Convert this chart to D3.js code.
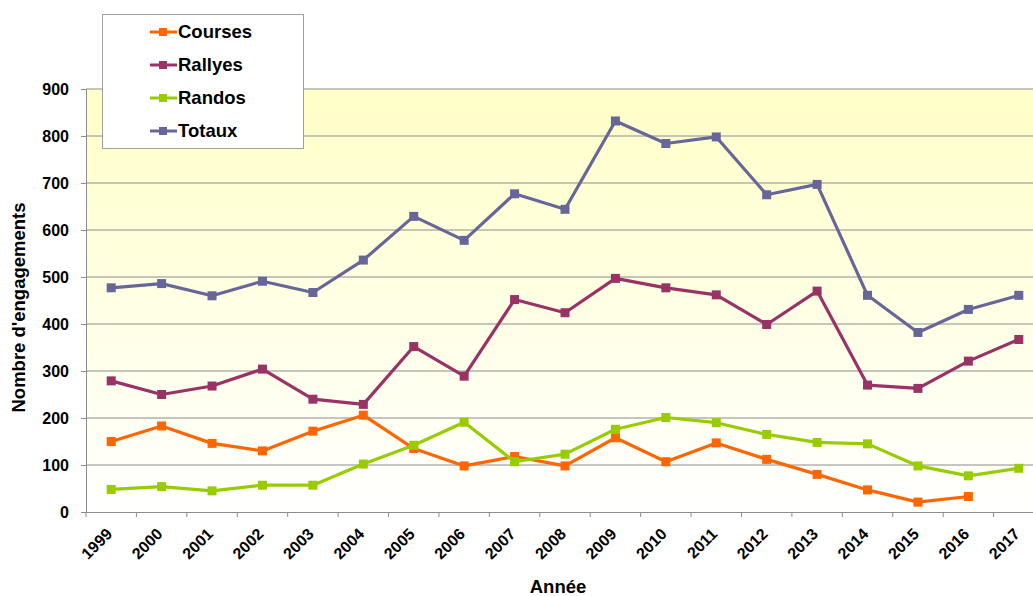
<!DOCTYPE html>
<html>
<head>
<meta charset="utf-8">
<script src="https://cdn.jsdelivr.net/npm/d3@7"></script>
<style>
  body { margin: 0; background: #fff; }
  svg { font-family: "Liberation Sans", Arial, sans-serif; }
</style>
</head>
<body>
<div id="chart"></div>
<script>
const years = ['1999','2000','2001','2002','2003','2004','2005','2006','2007','2008',
  '2009','2010','2011','2012','2013','2014','2015','2016','2017']
const courses = [150, 183, 146, 130, 172, 206, 135, 98, 118, 98, 158, 107, 147, 112, 80, 47, 21, 33, null]
const rallyes = [279, 250, 268, 304, 240, 229, 352, 289, 452, 424, 497, 477, 462, 399, 470, 270, 263, 321, 367]
const randos = [48, 54, 45, 57, 57, 102, 142, 191, 107, 123, 176, 201, 190, 165, 148, 145, 98, 77, 93]
const totaux = [477, 486, 460, 491, 467, 536, 629, 578, 677, 644, 832, 784, 798, 675, 697, 461, 382, 431, 461]
const yTicks = [0, 100, 200, 300, 400, 500, 600, 700, 800, 900]

const series = [
  { name: 'Courses', values: courses, color: '#FF6600' },
  { name: 'Rallyes', values: rallyes, color: '#993366' },
  { name: 'Randos', values: randos, color: '#99CC00' },
  { name: 'Totaux', values: totaux, color: '#666699' }
]

const width = 1033, height = 596
const margin = { left: 86, top: 89, bottom: 84 }
const plotRight = 1044

const svg = d3.select('#chart').append('svg')
  .attr('width', width)
  .attr('height', height)

const x = d3.scaleBand().domain(years).range([margin.left, plotRight])
const y = d3.scaleLinear().domain([0, 900]).range([height - margin.bottom, margin.top])

// fond dégradé
const defs = svg.append('defs')
const grad = defs.append('linearGradient')
  .attr('id', 'bg').attr('x1', 0).attr('y1', 0).attr('x2', 0).attr('y2', 1)
grad.append('stop').attr('offset', '0%').attr('stop-color', '#FFFFC8')
grad.append('stop').attr('offset', '100%').attr('stop-color', '#FFFFFF')

svg.append('rect')
  .attr('x', margin.left).attr('y', y(900))
  .attr('width', plotRight - margin.left).attr('height', y(0) - y(900))
  .attr('fill', 'url(#bg)')

// grille
svg.append('g')
  .selectAll('line')
  .data(yTicks.filter(d => d > 0))
  .enter()
  .append('line')
  .attr('x1', margin.left).attr('x2', plotRight)
  .attr('y1', d => y(d)).attr('y2', d => y(d))
  .attr('stroke', '#8C8C8C').attr('stroke-width', 1)

// axe Y
const yAxis = svg.append('g')
  .attr('transform', `translate(${margin.left},0)`)
  .call(d3.axisLeft(y).tickValues(yTicks).tickSize(5).tickPadding(12))
yAxis.select('.domain').attr('stroke', '#8C8C8C')
yAxis.selectAll('.tick line').attr('stroke', '#8C8C8C')
yAxis.selectAll('text')
  .attr('font-size', '16px').attr('font-weight', 'bold').attr('fill', '#000')
  .attr('font-family', '"Liberation Sans", Arial, sans-serif')

// axe X
const xAxis = svg.append('g')
  .attr('transform', `translate(0,${y(0)})`)
  .call(d3.axisBottom(x).tickSize(0).tickPadding(0))
xAxis.select('.domain').attr('stroke', '#8C8C8C')
xAxis.selectAll('text')
  .attr('font-size', '16px').attr('font-weight', 'bold').attr('fill', '#000')
  .attr('font-family', '"Liberation Sans", Arial, sans-serif')
  .attr('text-anchor', 'end')
  .attr('dy', null).attr('y', 0)
  .attr('transform', 'translate(2,23) rotate(-45)')

// graduations aux limites des catégories
svg.append('g')
  .selectAll('line')
  .data(years)
  .enter()
  .append('line')
  .attr('x1', d => x(d)).attr('x2', d => x(d))
  .attr('y1', y(0)).attr('y2', y(0) + 5)
  .attr('stroke', '#8C8C8C')

// titres des axes
svg.append('text')
  .attr('x', 558).attr('y', 593)
  .attr('text-anchor', 'middle')
  .attr('font-size', '18.5px').attr('font-weight', 'bold')
  .text('Année')

svg.append('text')
  .attr('transform', `translate(25,${(y(0) + y(900)) / 2 + 7}) rotate(-90)`)
  .attr('text-anchor', 'middle')
  .attr('font-size', '18.5px').attr('font-weight', 'bold')
  .text("Nombre d'engagements")

// courbes
const line = d3.line()
  .defined(d => d.v != null)
  .x(d => x(d.year) + x.bandwidth() / 2)
  .y(d => y(d.v))

series.forEach(s => {
  const pts = years.map((yr, i) => ({ year: yr, v: s.values[i] }))
  svg.append('path')
    .datum(pts)
    .attr('d', line)
    .attr('fill', 'none')
    .attr('stroke', s.color)
    .attr('stroke-width', 3.2)
    .attr('stroke-linejoin', 'round')

  svg.append('g')
    .selectAll('rect')
    .data(pts.filter(d => d.v != null))
    .enter()
    .append('rect')
    .attr('x', d => x(d.year) + x.bandwidth() / 2 - 4.5)
    .attr('y', d => y(d.v) - 4.5)
    .attr('width', 9).attr('height', 9)
    .attr('fill', s.color)
})

// légende
const legend = svg.append('g')
legend.append('rect')
  .attr('x', 102.5).attr('y', 14.5)
  .attr('width', 201).attr('height', 134)
  .attr('fill', '#fff').attr('stroke', '#A0A0A0')

const item = legend.selectAll('.item')
  .data(series)
  .enter()
  .append('g')
  .attr('class', 'item')
  .attr('transform', (d, i) => `translate(0,${32 + i * 33})`)

item.append('line')
  .attr('x1', 150).attr('x2', 177)
  .attr('stroke', d => d.color).attr('stroke-width', 3)
item.append('rect')
  .attr('x', 159).attr('y', -4).attr('width', 8).attr('height', 8)
  .attr('fill', d => d.color)
item.append('text')
  .attr('x', 178).attr('dy', '0.35em')
  .attr('font-size', '18.5px').attr('font-weight', 'bold')
  .text(d => d.name)
</script>
</body>
</html>
